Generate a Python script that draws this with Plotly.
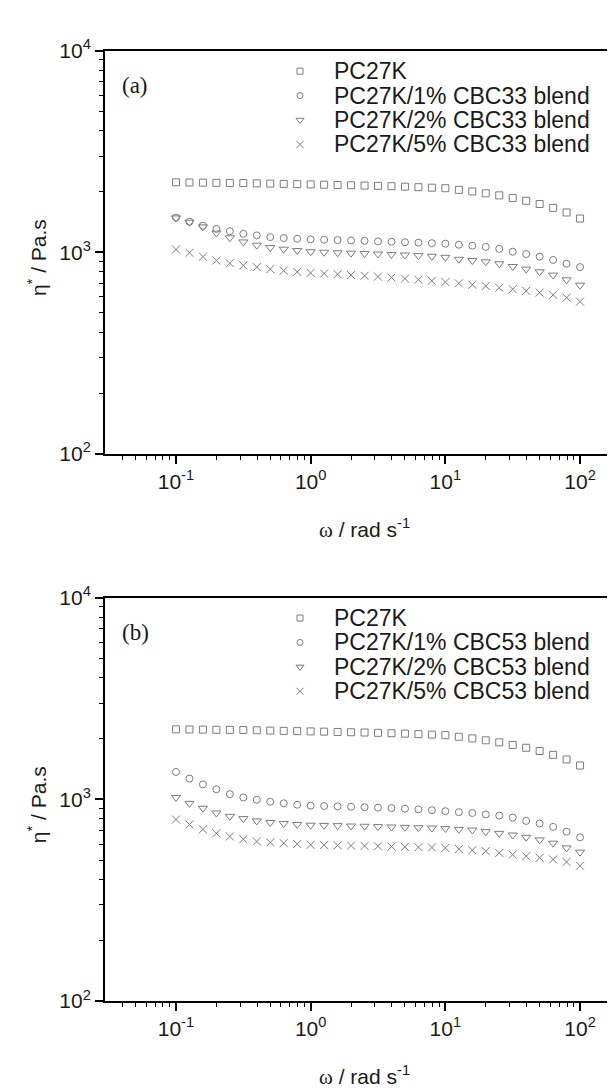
import plotly.graph_objects as go

# ---------------- data ----------------
omega = [0.1, 0.1259, 0.1585, 0.1995, 0.2512, 0.3162, 0.3981, 0.5012, 0.631, 0.7943,
         1.0, 1.259, 1.585, 1.995, 2.512, 3.162, 3.981, 5.012, 6.31, 7.943,
         10.0, 12.59, 15.85, 19.95, 25.12, 31.62, 39.81, 50.12, 63.1, 79.43, 100.0]

pc27k = [2222, 2218, 2214, 2210, 2207, 2204, 2197, 2190, 2183, 2176, 2170, 2163, 2156, 2149,
         2142, 2135, 2125, 2115, 2103, 2091, 2078, 2040, 2003, 1960, 1915, 1860, 1800, 1735,
         1660, 1575, 1470]

# panel (a): CBC33 blends
cbc33_1 = [1486, 1417, 1355, 1305, 1272, 1234, 1212, 1189, 1176, 1167, 1159, 1154, 1149, 1144,
           1139, 1133, 1127, 1121, 1115, 1109, 1103, 1090, 1078, 1063, 1040, 1006, 980, 951,
           916, 877, 844]
cbc33_2 = [1480, 1410, 1336, 1245, 1180, 1125, 1084, 1055, 1036, 1020, 1006, 1000, 994, 990,
           985, 980, 975, 969, 962, 955, 944, 923, 910, 896, 877, 850, 825, 800, 770, 730, 686]
cbc33_5 = [1032, 994, 951, 910, 882, 860, 844, 825, 811, 799, 790, 784, 778, 771, 764, 757,
           749, 740, 731, 722, 711, 701, 690, 680, 667, 656, 643, 631, 615, 595, 569]

# panel (b): CBC53 blends
cbc53_1 = [1366, 1267, 1185, 1121, 1060, 1021, 994, 972, 955, 940, 930, 926, 922, 918, 914,
           909, 904, 898, 891, 883, 873, 863, 855, 841, 830, 811, 781, 758, 730, 691, 648]
cbc53_2 = [1021, 955, 903, 855, 823, 802, 781, 767, 758, 750, 744, 742, 740, 737, 735, 732,
           729, 726, 723, 720, 717, 709, 704, 691, 678, 665, 648, 629, 606, 574, 547]
cbc53_5 = [793, 750, 709, 678, 654, 634, 618, 611, 606, 600, 595, 593, 591, 589, 587, 585,
           583, 581, 579, 577, 574, 567, 559, 553, 542, 532, 522, 513, 503, 489, 468]

names_a = ["PC27K", "PC27K/1% CBC33 blend", "PC27K/2% CBC33 blend", "PC27K/5% CBC33 blend"]
names_b = ["PC27K", "PC27K/1% CBC53 blend", "PC27K/2% CBC53 blend", "PC27K/5% CBC53 blend"]
symbols = ["square-open", "circle-open", "triangle-down-open", "x-thin-open"]
sizes = [7, 7, 8, 8]

x_tickvals = [0.1, 1, 10, 100]
x_ticktext = ["10<sup>-1</sup>", "10<sup>0</sup>", "10<sup>1</sup>", "10<sup>2</sup>"]
y_tickvals = [100, 1000, 10000]
y_ticktext = ["10<sup>2</sup>", "10<sup>3</sup>", "10<sup>4</sup>"]

x_minor = [0.04, 0.05, 0.06, 0.07, 0.08, 0.09] + [m * 10 ** e for e in (-1, 0, 1) for m in range(2, 10)]
y_minor = [m * 10 ** e for e in (2, 3) for m in range(2, 10)]

# ---------------- figure ----------------
W, H = 615, 1091
GRAY = "#7c7c7c"
TXT = "#1a1a1a"
FONT = "Liberation Sans, Arial, sans-serif"
SERIF = "Liberation Serif, Times New Roman, serif"


def px_x(p):
    return p / W


def px_y(p):
    return 1 - p / H


# panel geometry in pixels: (top border, bottom border)
panels_px = [(29.3, 442.0), (589.0, 1002.0)]
X_LEFT, X_RIGHT = 97, 613

fig = go.Figure()

panels = [
    ("x", "y", names_a, [pc27k, cbc33_1, cbc33_2, cbc33_5]),
    ("x2", "y2", names_b, [pc27k, cbc53_1, cbc53_2, cbc53_5]),
]
for xa, ya, names, series in panels:
    for nm, ys, sym, sz in zip(names, series, symbols, sizes):
        fig.add_trace(go.Scatter(
            x=omega, y=ys, mode="markers", name=nm, xaxis=xa, yaxis=ya, showlegend=False,
            marker=dict(symbol=sym, size=sz, color=GRAY, line=dict(color=GRAY, width=1)),
        ))

xdom = [px_x(X_LEFT), px_x(X_RIGHT)]
top_dom = [px_y(panels_px[0][1]), px_y(panels_px[0][0])]
bot_dom = [px_y(panels_px[1][1]), px_y(panels_px[1][0])]

xaxis_common = dict(
    type="log", range=[-1.527, 2.304], domain=xdom,
    tickmode="array", tickvals=x_tickvals, ticktext=x_ticktext,
    ticks="outside", ticklen=8, tickwidth=1.5, tickcolor="black",
    minor=dict(tickmode="array", tickvals=x_minor, ticks="outside", ticklen=4,
               tickwidth=1.2, tickcolor="black"),
    showline=True, linecolor="black", linewidth=2, mirror=True,
    showgrid=False, zeroline=False,
    tickfont=dict(family=FONT, size=21, color=TXT),
)
yaxis_common = dict(
    type="log", range=[2, 4],
    tickmode="array", tickvals=y_tickvals, ticktext=y_ticktext,
    ticks="outside", ticklen=8, tickwidth=1.5, tickcolor="black",
    minor=dict(tickmode="array", tickvals=y_minor, ticks="outside", ticklen=4,
               tickwidth=1.2, tickcolor="black"),
    showline=True, linecolor="black", linewidth=2, mirror=True,
    showgrid=False, zeroline=False,
    tickfont=dict(family=FONT, size=21, color=TXT),
)

# overlay axes in pixel units, used only for the legend keys
overlay = dict(domain=[0, 1], visible=False, fixedrange=True, showgrid=False, zeroline=False)

fig.update_layout(
    width=W, height=H,
    margin=dict(l=0, r=0, t=0, b=0),
    paper_bgcolor="white", plot_bgcolor="rgba(0,0,0,0)",
    xaxis=dict(xaxis_common, anchor="y"),
    yaxis=dict(yaxis_common, domain=top_dom, anchor="x"),
    xaxis2=dict(xaxis_common, anchor="y2"),
    yaxis2=dict(yaxis_common, domain=bot_dom, anchor="x2"),
    xaxis3=dict(overlay, range=[0, W], anchor="y3"),
    yaxis3=dict(overlay, range=[H, 0], anchor="x3"),
    showlegend=False,
)

# legend (drawn manually so the tight row spacing of the original can be kept)
LEG_KEY_X, LEG_TXT_X = 292, 325
ROW_OFF = [21, 46, 71, 96]   # row centres below each panel's top border
ann = []
for (ptop, _), names in zip(panels_px, (names_a, names_b)):
    for nm, sym, sz, off in zip(names, symbols, sizes, ROW_OFF):
        fig.add_trace(go.Scatter(
            x=[LEG_KEY_X], y=[ptop + off], xaxis="x3", yaxis="y3", mode="markers",
            showlegend=False, hoverinfo="skip",
            marker=dict(symbol=sym, size=sz - 1, color=GRAY, line=dict(color=GRAY, width=1)),
        ))
        ann.append(dict(text=nm, x=px_x(LEG_TXT_X), y=px_y(ptop + off), xref="paper", yref="paper",
                        xanchor="left", yanchor="middle", showarrow=False, borderpad=0,
                        font=dict(family=FONT, size=23, color=TXT)))

for lab, (ptop, _) in zip(("(a)", "(b)"), panels_px):
    ann.append(dict(text=lab, x=px_x(112), y=px_y(ptop + 36), xref="paper", yref="paper",
                    xanchor="left", yanchor="middle", showarrow=False,
                    font=dict(family=SERIF, size=23, color=TXT)))
for (ptop, pbot) in panels_px:
    ann.append(dict(text="η<sup>*</sup> / Pa.s", x=px_x(29), y=px_y((ptop + pbot) / 2 + 6),
                    xref="paper", yref="paper",
                    xanchor="center", yanchor="middle", textangle=-90, showarrow=False,
                    font=dict(family=FONT, size=21, color=TXT)))
    ann.append(dict(text='<span style="font-family:Liberation Serif">ω</span> / rad s<sup>-1</sup>',
                    x=px_x(356), y=px_y(pbot + 76), xref="paper", yref="paper",
                    xanchor="center", yanchor="middle", showarrow=False,
                    font=dict(family=FONT, size=21, color=TXT)))
fig.update_layout(annotations=ann)

fig.write_html("out.html")
